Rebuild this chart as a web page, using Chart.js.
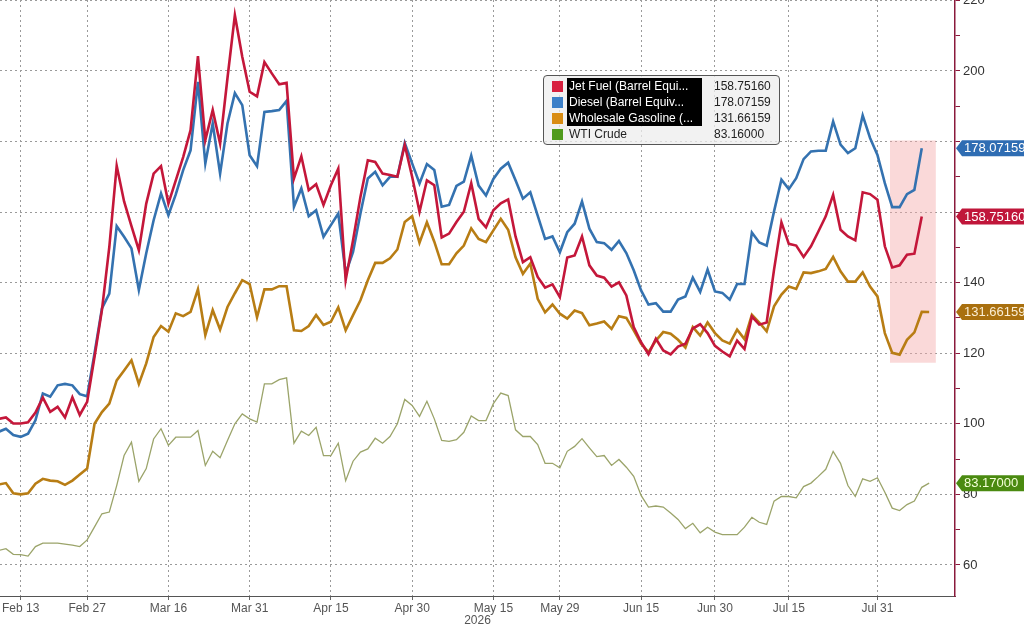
<!DOCTYPE html>
<html>
<head>
<meta charset="utf-8">
<script src="https://cdn.jsdelivr.net/npm/chart.js@4.4.1/dist/chart.umd.min.js"></script>
<style>
  body { margin: 0; background: #fff; }
  #wrap { position: absolute; left: 0; top: 0; width: 1024px; height: 629px; }
  #legend {
    position: absolute; left: 543px; top: 75px; width: 237px; height: 70px;
    background: rgba(238, 238, 238, 0.75); border: 1px solid #555; border-radius: 4px;
    font-family: "Liberation Sans", sans-serif; font-size: 12px; color: #222;
    box-sizing: border-box; padding-top: 2px;
  }
  .row { position: relative; height: 16px; line-height: 16px; }
  .sw { position: absolute; left: 8px; top: 3px; width: 11px; height: 11px; }
  .nm { position: absolute; left: 23px; top: 0; padding-left: 2px; width: 133px; white-space: nowrap; }
  .nm.hl { background: #000; color: #fff; }
  .val { position: absolute; left: 170px; top: 0; }
</style>
</head>
<body>
<div id="wrap">
  <canvas id="grafico"></canvas>
  <div id="legend"></div>
</div>
<script>
// Valores de cada serie, un punto por dia habil (indice 0 = Feb 10)
const jetFuel = [101.4, 101.8, 100.1, 100.1, 100.4, 103.2, 107.4, 103.4, 104.8, 101.8,
  107.5, 102.5, 106.2, 119.0, 132.2, 150.1, 173.1, 163.0, 156.0, 149.2,
  162.4, 170.9, 173.0, 162.4, 169.0, 175.6, 183.2, 204.2, 180.4, 188.9,
  179.4, 198.0, 215.8, 204.0, 194.1, 192.8, 202.5, 199.3, 196.2, 196.6,
  169.5, 175.8, 166.2, 167.9, 162.0, 167.6, 172.3, 140.7, 152.0, 164.3,
  174.7, 174.2, 170.9, 170.5, 170.0, 179.0, 170.0, 160.1, 169.0, 167.6,
  152.8, 153.9, 157.2, 160.1, 168.2, 158.1, 155.7, 160.5, 162.5, 163.6,
  153.1, 145.8, 147.2, 141.6, 138.6, 139.5, 135.9, 147.1, 147.7, 153.1,
  144.9, 142.0, 141.4, 138.9, 140.1, 136.4, 127.4, 123.1, 119.7, 124.1,
  120.8, 119.7, 121.9, 122.7, 127.0, 128.2, 125.7, 122.1, 120.5, 119.1,
  123.6, 121.2, 130.4, 128.1, 128.7, 143.7, 157.1, 151.0, 150.5, 147.3,
  150.3, 154.5, 158.8, 164.9, 155.0, 153.1, 152.0, 165.6, 165.1, 163.5,
  150.3, 144.3, 144.9, 147.9, 148.2, 158.7516];

const diesel = [97.7, 98.6, 96.8, 96.3, 97.2, 101.0, 108.6, 107.7, 110.9, 111.3,
  110.9, 108.4, 107.8, 120.0, 132.7, 136.9, 156.0, 153.0, 149.7, 137.9,
  148.3, 157.7, 165.3, 159.1, 165.0, 171.9, 177.5, 196.9, 173.8, 185.1,
  170.9, 185.1, 193.7, 190.3, 176.1, 173.0, 188.4, 188.6, 188.9, 191.5,
  161.5, 166.7, 158.8, 160.5, 153.0, 156.3, 159.6, 142.6, 148.7, 159.6,
  169.5, 171.4, 167.6, 170.0, 170.0, 179.6, 173.8, 168.1, 173.6, 171.9,
  161.5, 162.0, 167.4, 168.6, 176.0, 167.5, 164.7, 169.4, 172.3, 174.0,
  169.0, 163.8, 165.6, 159.0, 152.4, 153.1, 148.6, 154.3, 156.7, 163.0,
  155.3, 151.5, 151.2, 149.3, 151.8, 148.4, 143.5, 137.8, 133.8, 134.2,
  131.8, 131.8, 135.2, 136.1, 141.4, 137.4, 143.7, 137.5, 137.1, 135.2,
  139.6, 139.6, 154.2, 151.4, 150.5, 160.2, 169.2, 166.5, 169.6, 175.0,
  177.2, 177.4, 177.4, 185.7, 179.1, 176.7, 178.1, 187.4, 181.0, 176.2,
  168.2, 161.4, 161.4, 165.1, 166.3, 178.07159];

const gasoline = [82.8, 83.2, 80.3, 80.0, 80.3, 83.0, 84.4, 83.9, 83.7, 82.7,
  83.9, 85.6, 87.3, 100.0, 103.3, 105.7, 112.3, 115.1, 118.0, 111.3,
  117.1, 124.6, 127.7, 126.1, 131.3, 130.5, 131.7, 138.1, 125.1, 132.2,
  126.7, 133.1, 137.0, 140.7, 139.6, 130.2, 138.1, 138.1, 139.0, 139.0,
  126.5, 126.3, 127.7, 130.8, 128.0, 128.9, 133.0, 126.5, 130.8, 135.0,
  140.7, 145.6, 145.6, 146.9, 149.4, 157.2, 158.8, 151.3, 157.1, 151.6,
  145.2, 145.2, 148.3, 150.5, 155.4, 152.4, 151.5, 154.8, 158.1, 155.0,
  147.2, 142.5, 145.4, 135.4, 131.6, 133.8, 131.2, 129.8, 132.1, 131.4,
  127.9, 128.4, 129.0, 126.9, 130.5, 130.0, 126.5, 122.7, 120.3, 123.6,
  126.0, 125.5, 123.8, 121.6, 127.4, 125.0, 128.7, 125.7, 123.6, 122.7,
  126.7, 124.0, 130.9, 128.7, 126.2, 133.3, 136.6, 138.9, 138.2, 142.9,
  142.7, 143.2, 143.9, 147.3, 143.2, 140.3, 140.3, 142.9, 138.9, 136.1,
  125.7, 120.1, 119.6, 123.8, 125.9, 131.7, 131.66159];

const wtiCrude = [64.1, 64.6, 63.0, 62.9, 62.5, 65.2, 66.2, 66.2, 66.2, 65.9,
  65.6, 65.2, 67.1, 70.8, 74.5, 75.0, 82.5, 91.0, 94.8, 83.7,
  87.3, 95.7, 98.6, 93.9, 96.2, 96.2, 96.2, 98.1, 88.2, 92.2,
  90.4, 95.3, 100.0, 102.8, 101.4, 100.5, 111.3, 111.3, 112.5, 113.0,
  94.5, 97.9, 96.7, 99.0, 91.0, 91.0, 94.5, 83.9, 89.4, 92.0,
  92.9, 95.9, 94.5, 96.4, 100.0, 106.9, 105.2, 102.1, 106.4, 101.4,
  95.3, 95.0, 95.5, 97.6, 102.2, 100.9, 100.9, 105.7, 108.7, 108.0,
  98.3, 96.4, 96.4, 94.1, 88.8, 88.8, 87.5, 92.2, 93.6, 95.8,
  93.2, 90.7, 91.0, 88.2, 89.9, 87.7, 85.1, 79.7, 76.4, 76.7,
  76.4, 74.7, 72.9, 70.3, 71.8, 69.1, 70.7, 69.3, 68.6, 68.6,
  68.6, 70.7, 73.5, 72.1, 71.5, 78.1, 79.4, 79.4, 79.0, 82.2,
  83.2, 85.1, 87.1, 92.2, 88.8, 82.5, 79.4, 84.4, 83.7, 84.7,
  80.6, 76.1, 75.4, 77.1, 78.1, 82.0, 83.17];

// Etiquetas del eje x y el dia habil que les corresponde
const tickLabels = ["Feb 13", "Feb 27", "Mar 16", "Mar 31", "Apr 15", "Apr 30",
  "May 15", "May 29", "Jun 15", "Jun 30", "Jul 15", "Jul 31"];
const tickIndex = [3, 12, 23, 34, 45, 56, 67, 76, 87, 97, 107, 119];
const yearLabel = "2026";

// Etiquetas del eje y que quedan tapadas por los valores
const hiddenY = [160, 180];

// Leyenda
const seriesNames = ["Jet Fuel (Barrel Equi...", "Diesel (Barrel Equiv...", "Wholesale Gasoline (...", "WTI Crude"];
const legendValues = ["158.75160", "178.07159", "131.66159", "83.16000"];

// Colores
const lineColors = ["#c4173a", "#3472b0", "#b87d14", "#9ba46a"];
const swatchColors = ["#d8203f", "#3d80c8", "#d98d14", "#4f9a1c"];
const tagColors = ["#c0163a", "#2f6db3", "#a9700f", "#4a8a10"];
const tagText = ["#ffffff", "#ffffff", "#fbeed4", "#f4ffd8"];

// Zona sombreada (en valores de los ejes)
const shadeX = [120.7, 126.9];
const shadeY = [117.3, 180.3];

const series = [jetFuel, diesel, gasoline, wtiCrude];

// Leyenda en HTML
const legend = document.getElementById("legend");
seriesNames.forEach((nombre, i) => {
  const row = document.createElement("div");
  row.className = "row";
  row.innerHTML = '<span class="sw" style="background:' + swatchColors[i] + '"></span>' +
    '<span class="nm' + (i < 3 ? ' hl' : '') + '">' + nombre + '</span>' +
    '<span class="val">' + legendValues[i] + '</span>';
  legend.appendChild(row);
});

// Sombreado detras de las lineas
const sombra = {
  id: "sombra",
  beforeDatasetsDraw(chart) {
    const { ctx, scales: { x, y } } = chart;
    const x0 = x.getPixelForValue(shadeX[0]);
    const x1 = x.getPixelForValue(shadeX[1]);
    const y0 = y.getPixelForValue(shadeY[1]);
    const y1 = y.getPixelForValue(shadeY[0]);
    ctx.save();
    ctx.fillStyle = "rgba(244, 170, 170, 0.45)";
    ctx.fillRect(x0, y0, x1 - x0, y1 - y0);
    ctx.restore();
  }
};

// Etiquetas con el ultimo valor a la derecha
const etiquetas = {
  id: "etiquetas",
  afterDraw(chart) {
    const { ctx, chartArea, scales: { y } } = chart;
    const left = chartArea.right + 1;
    const right = chart.width;
    ctx.save();
    ctx.font = "13px 'Liberation Sans', sans-serif";
    ctx.textBaseline = "middle";
    series.forEach((s, i) => {
      const last = s[s.length - 1];
      const py = y.getPixelForValue(last);
      const h = 8;
      ctx.fillStyle = tagColors[i];
      ctx.beginPath();
      ctx.moveTo(left, py);
      ctx.lineTo(left + 6, py - h);
      ctx.lineTo(right, py - h);
      ctx.lineTo(right, py + h);
      ctx.lineTo(left + 6, py + h);
      ctx.closePath();
      ctx.fill();
      ctx.fillStyle = tagText[i];
      ctx.fillText(last.toFixed(5), left + 8, py + 0.5);
    });
    ctx.restore();
  }
};

Chart.defaults.font.family = "'Liberation Sans', sans-serif";

const ctx = document.getElementById("grafico").getContext("2d");
const chart = new Chart(ctx, {
  type: "line",
  data: {
    datasets: series.map((s, i) => ({
      label: seriesNames[i],
      data: s.map((v, k) => ({ x: k, y: v })),
      borderColor: lineColors[i],
      borderWidth: i === 3 ? 1.3 : 2.6,
      pointRadius: 0,
      tension: 0,
      fill: false
    }))
  },
  options: {
    responsive: true,
    maintainAspectRatio: false,
    animation: false,
    layout: { padding: 0 },
    plugins: {
      legend: { display: false },
      tooltip: { enabled: false }
    },
    scales: {
      x: {
        type: "linear",
        min: 0.2,
        max: 129.5,
        afterBuildTicks(scale) {
          scale.ticks = tickIndex.map(v => ({ value: v }));
        },
        afterFit(scale) {
          scale.height = 33;
          scale.paddingLeft = 0;
          scale.paddingRight = 0;
        },
        ticks: {
          autoSkip: false,
          maxRotation: 0,
          padding: 1,
          color: "#555",
          font: { size: 12 },
          callback(value) {
            const k = tickIndex.indexOf(value);
            return k >= 0 ? tickLabels[k] : "";
          }
        },
        grid: {
          color: "#9a9a9a",
          lineWidth: 1,
          tickLength: 4,
          tickColor: "#666",
          tickBorderDash: []
        },
        border: { display: true, color: "#555", width: 1, dash: [2, 3] },
        title: {
          display: true,
          text: yearLabel,
          color: "#555",
          font: { size: 12 },
          padding: { top: 0, bottom: 1 }
        }
      },
      y: {
        position: "right",
        min: 51.2,
        max: 220.1,
        afterBuildTicks(scale) {
          const t = [];
          for (let v = 60; v <= 220; v += 10) t.push({ value: v });
          scale.ticks = t;
        },
        afterFit(scale) {
          scale.width = 69;
          scale.paddingTop = 0;
          scale.paddingBottom = 0;
        },
        ticks: {
          autoSkip: false,
          padding: 3,
          color: "#333",
          font: { size: 13 },
          callback(value) {
            if (value % 20 !== 0 || hiddenY.includes(value)) return "";
            return String(value);
          }
        },
        grid: {
          color: (c) => (c.tick && c.tick.value % 20 === 0 ? "#9a9a9a" : "rgba(0,0,0,0)"),
          lineWidth: 1,
          tickLength: 5,
          tickColor: "#8a1a3c",
          tickBorderDash: []
        },
        border: { display: true, color: "#8a1a3c", width: 1.5, dash: [2, 3] }
      }
    }
  },
  plugins: [sombra, etiquetas]
});
</script>
</body>
</html>
